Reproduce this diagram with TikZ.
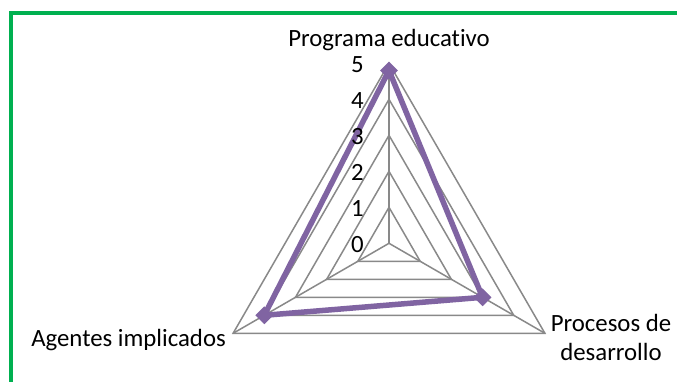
\documentclass[tikz,border=0pt]{standalone}
\usepackage{fontspec}
\setmainfont{Carlito}[Ligatures={NoCommon}]
\usetikzlibrary{shapes.geometric}
\definecolor{gridgray}{HTML}{898989}
\definecolor{seriespurple}{HTML}{8064A2}
\definecolor{framegreen}{HTML}{00B050}
\tikzset{
  gridline/.style={draw=gridgray, line width=1.5pt, line join=miter},
  seriesline/.style={draw=seriespurple, line width=5.5pt, line join=round},
  markerdiamond/.style={diamond, fill=seriespurple, draw=none, inner sep=0pt, minimum width=18pt, minimum height=18pt, aspect=1},
  lbl/.style={inner sep=0pt, font=\fontsize{24.8}{29.8}\selectfont, text=black},
  ticklbl/.style={inner sep=0pt, font=\fontsize{24.8}{29.8}\selectfont, text=black, anchor=base east},
  frameline/.style={draw=framegreen, line width=4.5pt, line join=miter, line cap=butt}
}
\begin{document}
\begin{tikzpicture}[x=1pt,y=-1pt]
\useasboundingbox (0,0) rectangle (677,382);
\fill[white] (0,0) rectangle (677,382);
% frame
\coordinate (fb) at (11,382);
\coordinate (fc) at (11,13);
\coordinate (fr) at (677,13);
\draw[frameline] (fb) -- (fc) -- (fr);
% centre and axes
\coordinate (C) at (389,243.3);
\foreach \k in {1,...,5}{
  \draw[gridline, shift={(C)}] (-90:{36*\k}) -- (30:{36*\k}) -- (150:{36*\k}) -- cycle;
}
\coordinate (A1) at ([shift={(-90:180)}]C);
\coordinate (A2) at ([shift={(30:180)}]C);
\coordinate (A3) at ([shift={(150:180)}]C);
\draw[gridline] (C) -- (A1);
\draw[gridline] (C) -- (A2);
\draw[gridline] (C) -- (A3);
% data
\coordinate (dT) at ([shift={(-90:{36*4.8})}]C);
\coordinate (dR) at ([shift={(30:{36*3})}]C);
\coordinate (dL) at ([shift={(150:{36*4})}]C);
\draw[seriesline] (dT) -- (dR) -- (dL) -- cycle;
\node[markerdiamond] (mT) at (dT) {};
\node[markerdiamond] (mR) at (dR) {};
\node[markerdiamond] (mL) at (dL) {};
% tick labels
\foreach \k in {0,...,5}{
  \node[ticklbl] (t\k) at (364,{243.3-36*\k+9}) {\k};
}
% category labels
\node[lbl, anchor=base] (prog) at (389,46.7) {Programa educativo};
\node[lbl, anchor=base east] (agen) at (226,346.7) {Agentes implicados};
\node[lbl, anchor=base] (procA) at (611,331) {Procesos de};
\node[lbl, anchor=base] (procB) at (611,360.7) {desarrollo};
\end{tikzpicture}
\end{document}
